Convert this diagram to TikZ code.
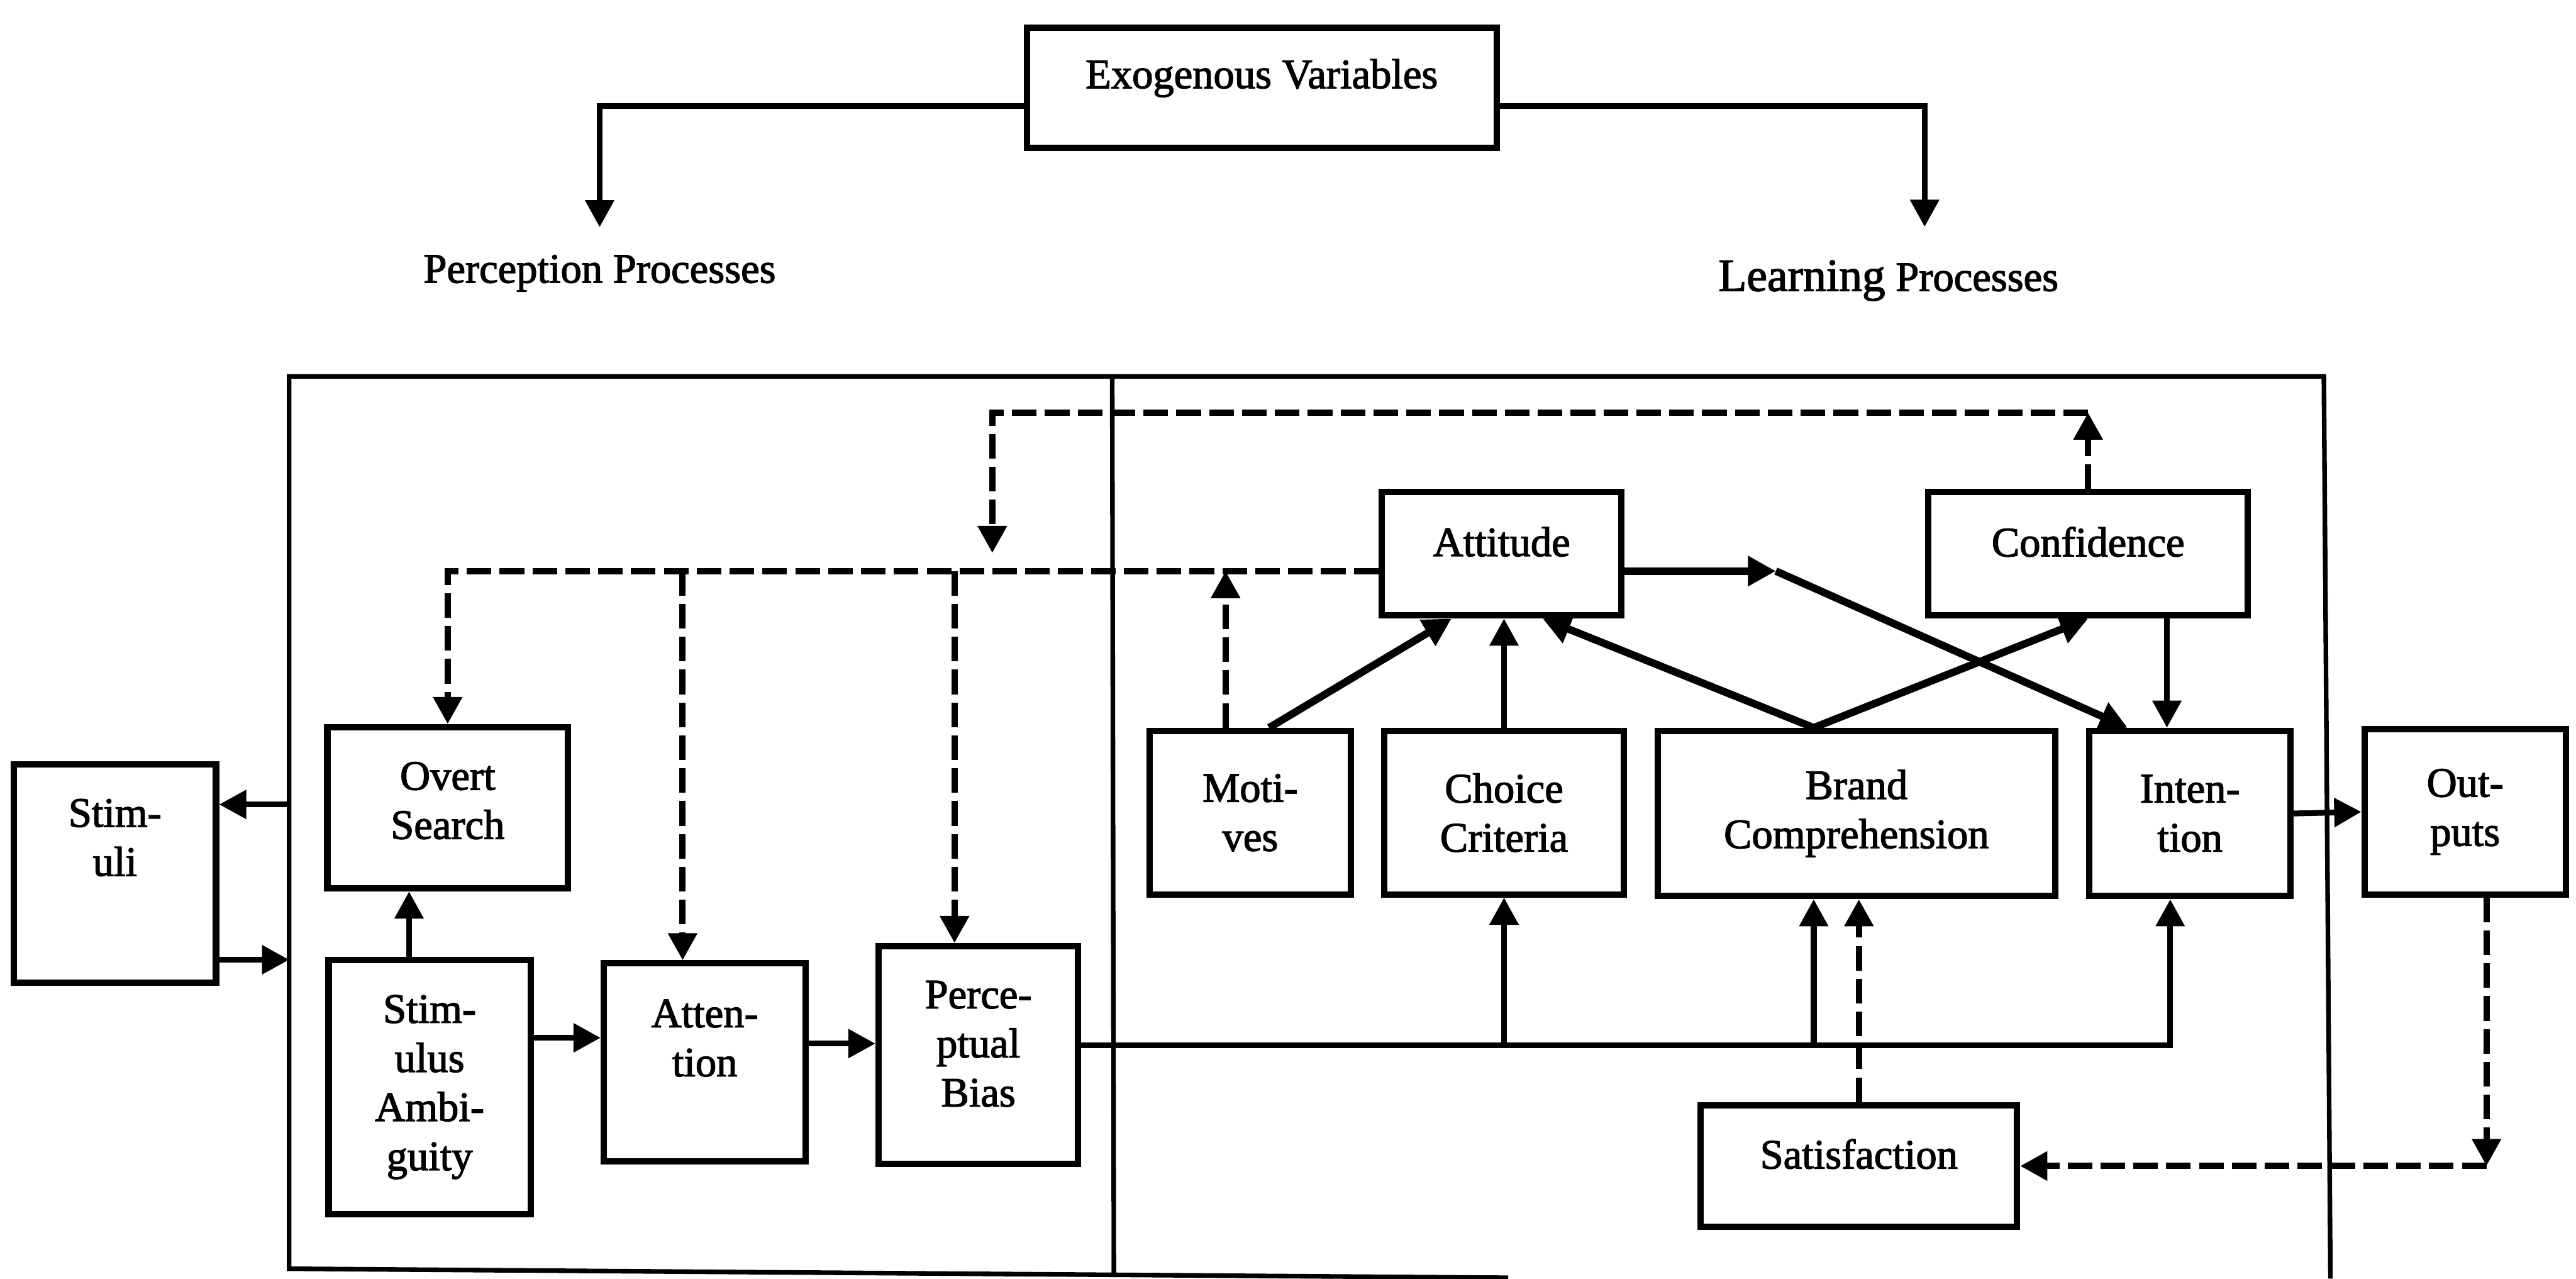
\documentclass[tikz,border=0pt]{standalone}
\usepackage{fontspec}
\setmainfont{Liberation Serif}[FakeBold=2]
\usetikzlibrary{arrows.meta, positioning}

\begin{document}
\begin{tikzpicture}[
        block/.style={rectangle, draw, line width=2.2pt, align=center, inner sep=1mm, font=\fontsize{14.5}{17}\selectfont},
        heading/.style={anchor=base, inner sep=0pt, font=\fontsize{14.5}{17}\selectfont},
        frameline/.style={line width=1.6pt},
        link/.style={line width=2pt, -{Triangle[length=3.3mm, width=3.4mm]}},
        blink/.style={line width=2.6pt, -{Triangle[length=3.4mm, width=3.5mm]}},
        dlink/.style={line width=2.2pt, dash pattern=on 3mm off 1mm, -{Triangle[length=3.3mm, width=3.4mm]}}
    ]
    \useasboundingbox (0,0) rectangle (31.36,15.56);

    % 外生变量
    \node[block, minimum width=5.72cm, minimum height=1.46cm] (exo) at (15.36,14.49) {Exogenous Variables\\[-2.5mm]};
    \node[heading] (perc) at (7.3,12.12) {Perception Processes};
    \node[heading] (learn) at (22.99,12.02) {{\fontsize{16}{17}\selectfont Learning} Processes};
    \coordinate (ltip) at ([xshift=4.4mm, yshift=4mm]learn.north);
    \draw[link] ([yshift=-2.2mm]exo.west) -| ([yshift=3.3mm]perc.north);
    \draw[link] ([yshift=-2.2mm]exo.east) -| (ltip);

    % 外框
    \draw[frameline] (18.36,0.01) -- (3.52,0.12) -- (3.52,10.98) -- (28.29,10.98) -- (28.37,0);
    \draw[frameline] (13.54,10.98) -- (13.56,0.06);

    % 感知过程
    \node[block, minimum width=2.46cm, minimum height=2.66cm] (stim) at (1.40,4.93) {Stim-\\uli\\[2.8mm]};
    \node[block, minimum width=2.93cm, minimum height=1.96cm] (search) at (5.45,5.73) {Overt\\Search\\[-4.2mm]};
    \node[block, minimum width=2.46cm, minimum height=3.09cm] (ambig) at (5.23,2.33) {Stim-\\ulus\\Ambi-\\guity};
    \node[block, minimum width=2.46cm, minimum height=2.41cm] (attn) at (8.58,2.63) {Atten-\\tion\\[0mm]};
    \node[block, minimum width=2.43cm, minimum height=2.65cm] (bias) at (11.91,2.72) {Perce-\\ptual\\Bias\\[-3.2mm]};

    % 学习过程
    \node[block, minimum width=2.92cm, minimum height=1.5cm] (attd) at (18.28,8.82) {Attitude\\[-3mm]};
    \node[block, minimum width=3.89cm, minimum height=1.5cm] (conf) at (25.42,8.82) {Confidence\\[-3mm]};
    \node[block, minimum width=2.45cm, minimum height=1.99cm] (motv) at (15.22,5.67) {Moti-\\ves};
    \node[block, minimum width=2.92cm, minimum height=1.99cm] (crit) at (18.31,5.67) {Choice\\Criteria};
    \node[block, minimum width=4.84cm, minimum height=2.01cm] (brand) at (22.60,5.66) {Brand\\Comprehension};
    \node[block, minimum width=2.45cm, minimum height=2.01cm] (intn) at (26.66,5.66) {Inten-\\tion};
    \node[block, minimum width=2.45cm, minimum height=2.01cm] (outp) at (30.01,5.68) {Out-\\puts};
    \node[block, minimum width=3.85cm, minimum height=1.48cm] (satf) at (22.63,1.37) {Satisfaction\\[-3mm]};

    % 刺激进出
    \coordinate (fin) at (3.52,5.77);
    \coordinate (fout) at (3.52,3.88);
    \draw[link] (fin) -- (fin -| stim.east);
    \draw[link] (fout -| stim.east) -- (fout);
    \draw[link] ([xshift=-2.5mm]ambig.north) -- ([xshift=-2.5mm]ambig.north |- search.south);
    \draw[link] ([yshift=6mm]ambig.east) -- ([yshift=6mm]ambig.east -| attn.west);
    \draw[link] ([yshift=2.3mm]attn.east) -- ([yshift=2.3mm]attn.east -| bias.west);

    % 感知偏差输出
    \coordinate (bus) at ([yshift=1.2mm]bias.east);
    \coordinate (bjoin) at ([xshift=-5.2mm]brand.south);
    \draw[link] (bus) -| ([xshift=-2.4mm]intn.south);
    \draw[link] (bus -| crit.south) -- (crit.south);
    \draw[link] (bus -| bjoin) -- (bjoin);

    % 态度与意向
    \draw[blink] ([xshift=2.3mm]motv.north) -- ([xshift=-6.1mm]attd.south);
    \draw[link] (crit.north) -- (crit.north |- attd.south);
    \draw[blink] ([xshift=-5.2mm]brand.north) -- ([xshift=5mm]attd.south);
    \draw[blink] ([xshift=-5.2mm]brand.north) -- (conf.south);
    \coordinate (kink) at ([xshift=18.4mm, yshift=-2.1mm]attd.east);
    \draw[blink] ([yshift=-2.1mm]attd.east) -- (kink);
    \draw[blink] (kink) -- ([xshift=-7.6mm]intn.north);
    \draw[link] ([xshift=-2.8mm]intn.north |- conf.south) -- ([xshift=-2.8mm]intn.north);
    \draw[link] (intn.east) -- (outp.west);

    % 反馈虚线
    \coordinate (dline) at ([yshift=-2.1mm]attd.west);
    \coordinate (atop) at ([xshift=-2.7mm]attn.north);
    \coordinate (btop) at ([xshift=-2.9mm]bias.north);
    \coordinate (mtop) at ([xshift=-3mm]motv.north);
    \draw[dlink] (dline) -| (search.north);
    \draw[dlink] (dline -| atop) -- (atop);
    \draw[dlink] (dline -| btop) -- (btop);
    \draw[dlink] (mtop) -- (mtop |- dline);

    \coordinate (ccorner) at ([yshift=9.3mm]conf.north);
    \coordinate (cend) at (12.08,8.83);
    \draw[dlink] (conf.north) -- (ccorner);
    \draw[dlink] (ccorner) -| (cend);

    \coordinate (odrop) at ([xshift=2.6mm]outp.south);
    \coordinate (ocorner) at (odrop |- satf.east);
    \draw[dlink] (outp.south -| odrop) -- (ocorner);
    \draw[dlink] (ocorner) -- (satf.east);
    \draw[dlink] (satf.north) -- (satf.north |- brand.south);

\end{tikzpicture}
\end{document}
